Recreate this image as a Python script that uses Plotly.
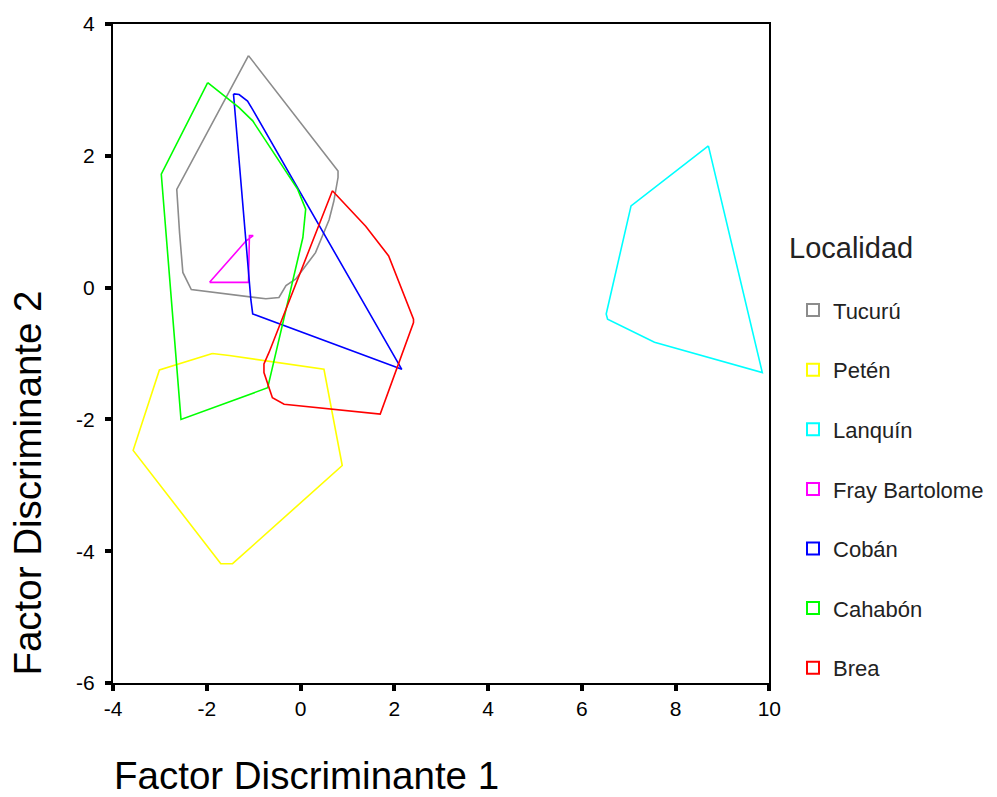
import plotly.graph_objects as go

# ---- data (discriminant factor scores, convex hulls) ----
localidades = ["Tucurú", "Petén", "Lanquín", "Fray Bartolome", "Cobán", "Cahabón", "Brea"]
colores = ["#8c8c8c", "#ffff00", "#00ffff", "#ff00ff", "#0000ff", "#00ff00", "#ff0000"]

tucuru_x = [-1.11, 0.80, 0.80, 0.71, 0.61, 0.32, 0.11, -0.10, -0.31, -0.46, -0.74, -2.33, -2.51, -2.58, -2.64]
tucuru_y = [3.52, 1.77, 1.67, 1.31, 1.03, 0.53, 0.33, 0.13, 0.03, -0.15, -0.17, -0.03, 0.23, 0.83, 1.49]

peten_x = [-1.88, -1.52, 0.50, 0.89, -1.45, -1.70, -3.57, -3.01]
peten_y = [-1.00, -1.03, -1.24, -2.70, -4.19, -4.19, -2.47, -1.25]

lanquin_x = [8.70, 7.05, 6.52, 6.55, 7.55, 9.85]
lanquin_y = [2.15, 1.24, -0.40, -0.48, -0.83, -1.29]

fray_x = [-1.94, -1.11, -1.09, -1.01, -1.16]
fray_y = [0.08, 0.08, 0.79, 0.79, 0.71]

coban_x = [-1.43, -1.31, -1.13, -1.02, 2.16, -1.02, -1.06]
coban_y = [2.94, 2.93, 2.83, 2.70, -1.24, -0.40, -0.18]

cahabon_x = [-1.98, -1.31, -1.02, -0.06, 0.11, 0.05, -0.70, -2.55, -2.97]
cahabon_y = [3.11, 2.73, 2.53, 1.49, 1.19, 0.76, -1.52, -2.00, 1.72]

brea_x = [0.68, 1.39, 1.88, 2.41, 2.41, 1.70, -0.35, -0.60, -0.78, -0.78, -0.67]
brea_y = [1.47, 0.93, 0.48, -0.48, -0.53, -1.92, -1.77, -1.67, -1.29, -1.16, -0.98]

xs = [tucuru_x, peten_x, lanquin_x, fray_x, coban_x, cahabon_x, brea_x]
ys = [tucuru_y, peten_y, lanquin_y, fray_y, coban_y, cahabon_y, brea_y]

x_ticks = [-4, -2, 0, 2, 4, 6, 8, 10]
y_ticks = [-6, -4, -2, 0, 2, 4]

FONT = "Liberation Sans, Arial, sans-serif"

fig = go.Figure()

# hull polygons (closed)
for name, col, px, py in zip(localidades, colores, xs, ys):
    fig.add_trace(go.Scatter(
        x=px + px[:1], y=py + py[:1], mode="lines",
        line=dict(color=col, width=1.6), showlegend=False, hoverinfo="skip",
    ))

# legend entries (open squares)
for i, (name, col) in enumerate(zip(localidades, colores)):
    fig.add_trace(go.Scatter(
        x=[None], y=[None], mode="markers", name=name, legendgroup=f"g{i}",
        marker=dict(symbol="square-open", size=10, color=col, line=dict(width=1.6, color=col)),
    ))

fig.update_layout(
    width=997, height=797,
    margin=dict(l=113, r=223, t=21, b=114),
    paper_bgcolor="white", plot_bgcolor="white",
    font=dict(family=FONT, color="black"),
    legend=dict(
        font=dict(size=22, color="#222222"),
        xref="container", yref="container",
        x=0.7954, y=0.637, xanchor="left", yanchor="top",
        tracegroupgap=28, itemsizing="constant", maxheight=700,
        bgcolor="rgba(0,0,0,0)", borderwidth=0,
    ),
    annotations=[
        dict(text="Localidad", xref="paper", yref="paper",
             x=1.0272, y=0.660, xanchor="left", yanchor="middle",
             showarrow=False, font=dict(size=29, color="#222222")),
        dict(text="Factor Discriminante 1", xref="paper", yref="paper",
             x=0, y=-0.141, xanchor="left", yanchor="middle", showarrow=False,
             borderpad=0, font=dict(size=38.5, color="black")),
        dict(text="Factor Discriminante 2", xref="paper", yref="paper",
             x=-0.130, y=0.3036, xanchor="center", yanchor="middle", showarrow=False,
             borderpad=0, textangle=-90, font=dict(size=38.5, color="black")),
    ],
)

fig.update_xaxes(
    range=[-4, 10], tickvals=x_ticks, ticktext=[str(v) for v in x_ticks],
    showgrid=False, zeroline=False, showline=True, linecolor="black", linewidth=2,
    mirror=True, ticks="outside", ticklen=6, tickwidth=4, tickcolor="black",
    tickfont=dict(size=21, color="black"), ticklabelstandoff=0,
)
fig.update_yaxes(
    range=[-6, 4], tickvals=y_ticks, ticktext=[str(v) for v in y_ticks],
    showgrid=False, zeroline=False, showline=True, linecolor="black", linewidth=2,
    mirror=True, ticks="outside", ticklen=6, tickwidth=4, tickcolor="black",
    tickfont=dict(size=21, color="black"), ticklabelstandoff=6,
)

fig.write_html("out.html")
